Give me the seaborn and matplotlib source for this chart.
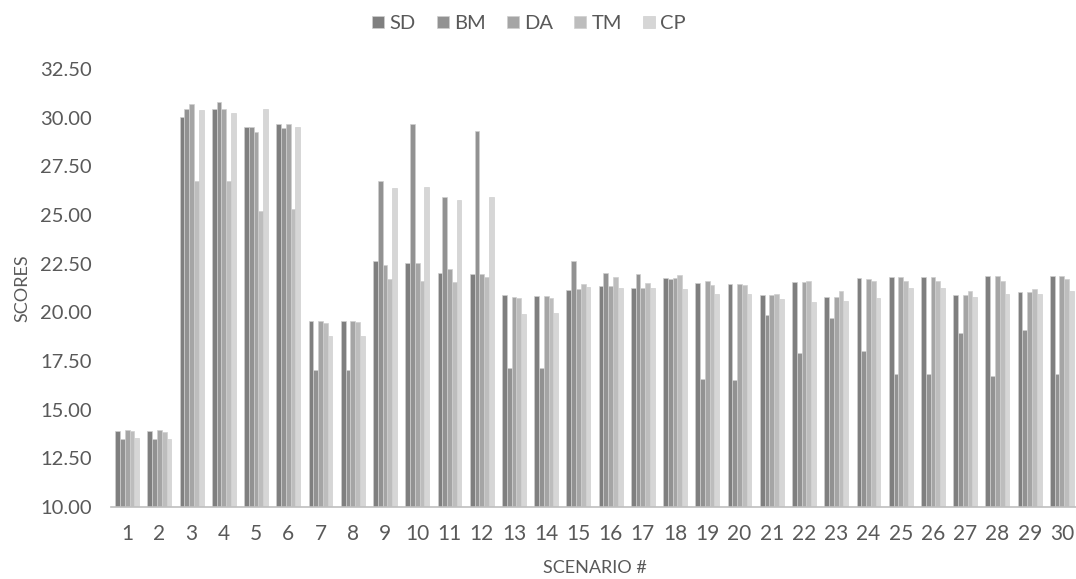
import matplotlib
matplotlib.use("Agg")
import matplotlib.pyplot as plt
import seaborn as sns
import pandas as pd
import numpy as np

scenarios = [str(i) for i in range(1, 31)]
series = ["SD", "BM", "DA", "TM", "CP"]

SD = [13.90, 13.90, 30.01, 30.44, 29.53, 29.70, 19.55, 19.55, 22.65, 22.53,
      22.03, 21.98, 20.87, 20.82, 21.13, 21.37, 21.23, 21.74, 21.49, 21.44,
      20.87, 21.54, 20.77, 21.74, 21.80, 21.80, 20.87, 21.86, 21.03, 21.86]
BM = [13.48, 13.48, 30.44, 30.80, 29.53, 29.47, 17.04, 17.04, 26.74, 29.70,
      25.93, 29.30, 17.12, 17.12, 22.65, 22.03, 21.98, 21.69, 16.56, 16.51,
      19.85, 17.89, 19.73, 18.03, 16.81, 16.81, 18.94, 16.74, 19.07, 16.81]
DA = [13.95, 13.95, 30.68, 30.44, 29.24, 29.70, 19.55, 19.55, 22.43, 22.53,
      22.21, 21.98, 20.77, 20.82, 21.18, 21.37, 21.23, 21.74, 21.62, 21.44,
      20.87, 21.54, 20.77, 21.69, 21.80, 21.80, 20.87, 21.86, 21.03, 21.86]
TM = [13.90, 13.85, 26.76, 26.76, 25.20, 25.31, 19.43, 19.49, 21.69, 21.62,
      21.54, 21.80, 20.72, 20.72, 21.44, 21.80, 21.49, 21.90, 21.39, 21.39,
      20.94, 21.62, 21.08, 21.62, 21.62, 21.62, 21.08, 21.62, 21.18, 21.69]
CP = [13.53, 13.48, 30.37, 30.22, 30.42, 29.53, 18.77, 18.77, 26.37, 26.42,
      25.75, 25.93, 19.90, 19.98, 21.32, 21.23, 21.23, 21.18, 20.94, 20.94,
      20.67, 20.51, 20.56, 20.72, 21.23, 21.23, 20.77, 20.94, 20.94, 21.08]

y_ticks = [10.0, 12.5, 15.0, 17.5, 20.0, 22.5, 25.0, 27.5, 30.0, 32.5]

values = {"SD": SD, "BM": BM, "DA": DA, "TM": TM, "CP": CP}
df = pd.DataFrame(
    [(sc, s, values[s][i]) for s in series for i, sc in enumerate(scenarios)],
    columns=["scenario", "series", "score"],
)

colors = ["#7f7f7f", "#929292", "#a5a5a5", "#bdbdbd", "#d6d6d6"]
text_color = "#595959"

sns.set_theme(style="white")
plt.rcParams["font.family"] = ["Lato", "DejaVu Sans"]

fig = plt.figure(figsize=(10.76, 5.79), dpi=100)
ax = fig.add_axes([111 / 1076, 72 / 579, 967 / 1076, 438 / 579])

sns.barplot(data=df, x="scenario", y="score", hue="series", order=scenarios,
            hue_order=series, palette=colors, width=0.74, ax=ax,
            edgecolor="#cfcfcf", linewidth=0.5, saturation=1, errorbar=None)

ax.set_ylim(10, 32.5)
ax.set_xlim(-0.5, 29.5)
ax.set_yticks(y_ticks)
ax.set_yticklabels([f"{t:.2f}" for t in y_ticks], fontsize=14.5, color=text_color)
ax.tick_params(axis="y", length=0, pad=14)
ax.tick_params(axis="x", length=0, labelsize=15, colors=text_color, pad=12)
ax.set_xticks(range(30))
ax.set_xticklabels(scenarios)
ax.set_xticks(np.arange(-0.5, 30, 1), minor=True)
ax.tick_params(axis="x", which="minor", length=5, color="#bfbfbf", width=1)

for side in ["left", "right", "top"]:
    ax.spines[side].set_visible(False)
ax.spines["bottom"].set_color("#bfbfbf")
ax.spines["bottom"].set_linewidth(1.2)
ax.grid(False)

ax.set_xlabel("SCENARIO #", fontsize=13, color=text_color, labelpad=12)
ax.set_ylabel("SCORES", fontsize=13, color=text_color, labelpad=7)

handles, labels = ax.get_legend_handles_labels()
ax.legend(handles, labels, loc="upper center", bbox_to_anchor=(418 / 967, 1 + 66 / 438),
          ncol=5, frameon=False, fontsize=14.5, handlelength=0.6, handleheight=0.6,
          handletextpad=0.25, columnspacing=1.05, labelcolor=text_color,
          borderaxespad=0.2)

fig.savefig("out.png", dpi=100)
